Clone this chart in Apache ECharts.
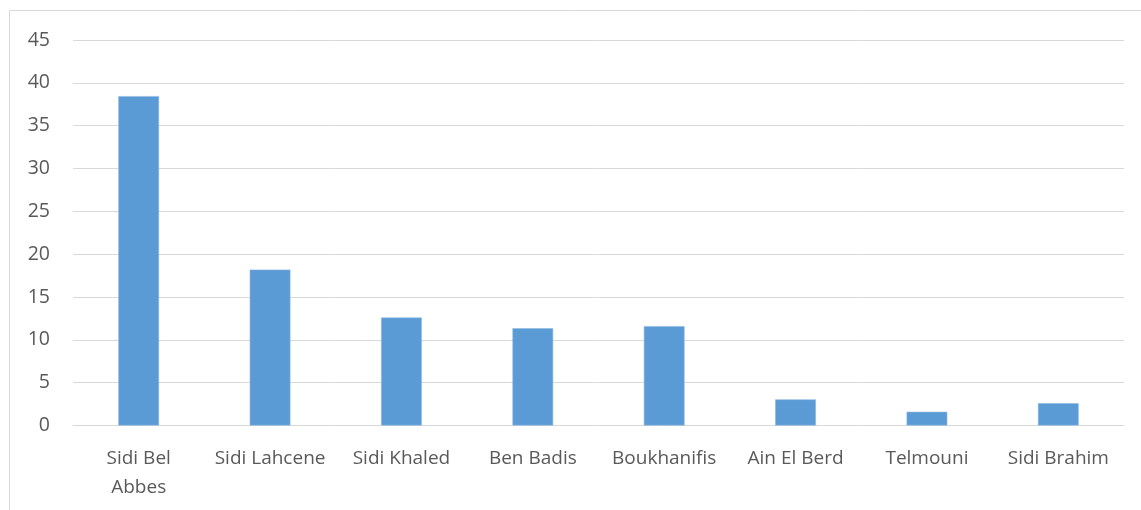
<!DOCTYPE html>
<html>
<head>
<meta charset="utf-8">
<script src="https://cdn.jsdelivr.net/npm/echarts@6/dist/echarts.min.js"></script>
<style>
  html, body { margin: 0; padding: 0; background: #fff; }
  #chart { width: 1141px; height: 510px; }
</style>
</head>
<body>
<div id="chart"></div>
<script>
// Communes and their values
const categories = ['Sidi Bel\nAbbes', 'Sidi Lahcene', 'Sidi Khaled', 'Ben Badis', 'Boukhanifis', 'Ain El Berd', 'Telmouni', 'Sidi Brahim'];
const values = [38.45, 18.2, 12.6, 11.35, 11.6, 3.05, 1.6, 2.6];
const yTicks = { min: 0, max: 45, interval: 5 };

const textColor = '#595959';
const gridColor = '#D9D9D9';
const fontFamily = '"Open Sans", "Noto Sans", sans-serif';

const chart = echarts.init(document.getElementById('chart'), null, { renderer: 'canvas' });
chart.setOption({
  animation: false,
  backgroundColor: '#fff',
  graphic: [{
    type: 'rect',
    shape: { x: 9.5, y: 10.5, width: 1300, height: 700 },
    style: { fill: 'none', stroke: gridColor, lineWidth: 1 },
    silent: true
  }],
  grid: { left: 73, right: 17, top: 40, bottom: 84.5, containLabel: false },
  xAxis: {
    type: 'category',
    data: categories,
    axisLine: { show: true, lineStyle: { color: gridColor, width: 1 } },
    axisTick: { show: false },
    axisLabel: {
      color: textColor, fontSize: 19, fontFamily: fontFamily,
      margin: 19, lineHeight: 29, interval: 0
    }
  },
  yAxis: {
    type: 'value',
    min: yTicks.min, max: yTicks.max, interval: yTicks.interval,
    axisLine: { show: false },
    axisTick: { show: false },
    splitLine: { lineStyle: { color: gridColor, width: 1 } },
    axisLabel: { color: textColor, fontSize: 19.5, fontFamily: fontFamily, margin: 23 }
  },
  series: [{
    type: 'bar',
    data: values,
    barWidth: '31%',
    itemStyle: { color: '#5B9BD5', borderColor: '#8DB9E3', borderWidth: 0.6 }
  }]
});
</script>
</body>
</html>
